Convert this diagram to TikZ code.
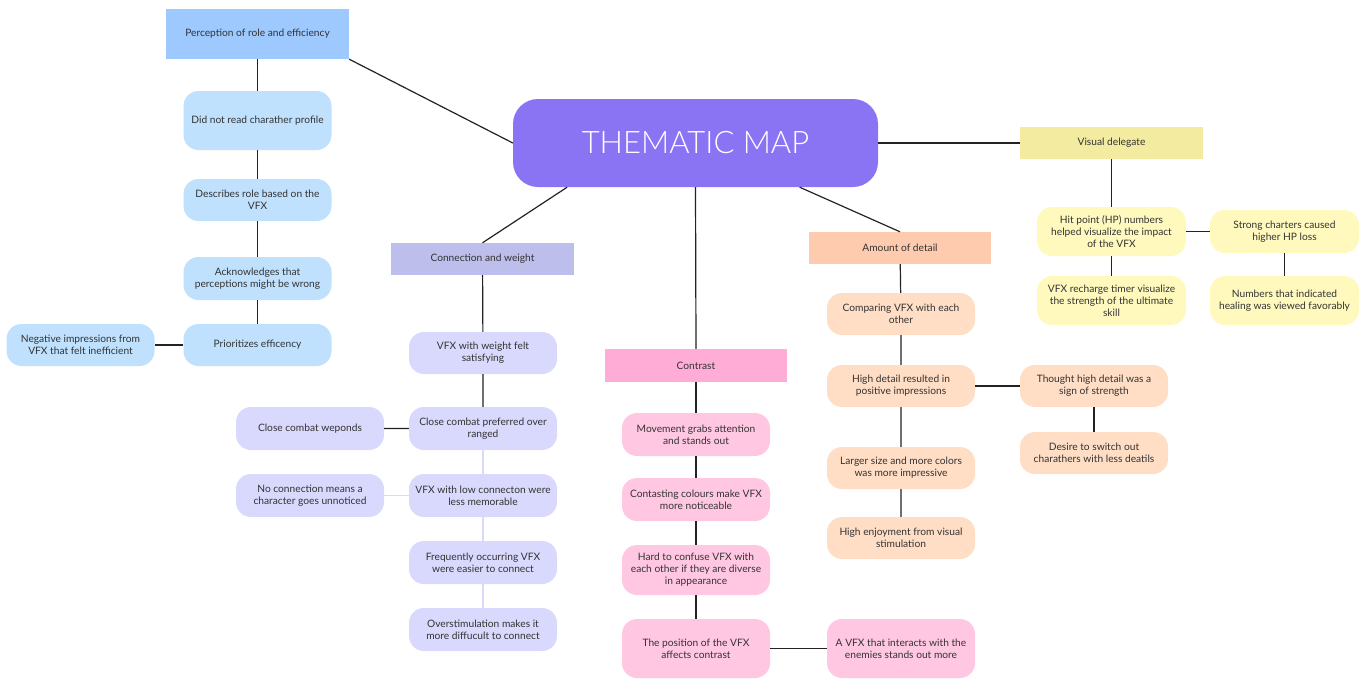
\documentclass[tikz,border=0pt]{standalone}
\usepackage{fontspec}
\setmainfont{Lato}
\newfontfamily\lightfont{Lato Light}
\definecolor{hubpurple}{HTML}{8B74F4}
\definecolor{bluecat}{HTML}{9DC9FE}
\definecolor{blueleaf}{HTML}{BFE1FE}
\definecolor{lavcat}{HTML}{BDBEEC}
\definecolor{lavleaf}{HTML}{D9D8FD}
\definecolor{pinkcat}{HTML}{FFADD7}
\definecolor{pinkleaf}{HTML}{FFC7E2}
\definecolor{peachcat}{HTML}{FFCBAF}
\definecolor{peachleaf}{HTML}{FFDEC5}
\definecolor{yellowcat}{HTML}{F3EB9F}
\definecolor{yellowleaf}{HTML}{FFF9BE}
\definecolor{txtgray}{HTML}{333333}
\definecolor{linegray}{HTML}{222222}

\begin{document}
\begin{tikzpicture}[x=1pt,y=-1pt,
  hub/.style={fill=hubpurple, rounded corners=25pt, minimum width=365pt, minimum height=88pt,
    text=white, font=\lightfont\fontsize{31}{34}\selectfont},
  theme/.style={minimum width=183pt, minimum height=32pt, inner sep=0pt, text=txtgray,
    font=\fontsize{10.2}{12}\selectfont},
  leaf/.style={rounded corners=15pt, minimum width=148pt, minimum height=42pt,
    inner sep=0pt, align=center, text=txtgray, font=\fontsize{10.2}{12}\selectfont},
  link/.style={draw=linegray, line width=1.2pt},
  softlink/.style={draw=lavleaf, line width=1.2pt}]
  \useasboundingbox (0,0) rectangle (1366,678);

  \node[hub] (hub) at (695.5,143) {THEMATIC MAP};

  % perception of role and efficiency
  \node[theme, fill=bluecat, minimum height=50pt] (perc) at (257.5,34) {Perception of role and efficiency};
  \node[leaf, fill=blueleaf, minimum height=59pt] (noread) at (257.5,120.5) {Did not read charather profile};
  \node[leaf, fill=blueleaf] (describe) at (257.5,200) {Describes role based on the\\VFX};
  \node[leaf, fill=blueleaf, minimum height=43pt] (acknow) at (257.5,278.5) {Acknowledges that\\perceptions might be wrong};
  \node[leaf, fill=blueleaf] (priority) at (257.5,345) {Prioritizes efficency};
  \node[leaf, fill=blueleaf] (negative) at (80.5,345) {Negative impressions from\\VFX that felt inefficient};

  % connection and weight
  \node[theme, fill=lavcat] (conn) at (482.5,259) {Connection and weight};
  \node[leaf, fill=lavleaf] (weight) at (483,353) {VFX with weight felt\\satisfying};
  \node[leaf, fill=lavleaf, minimum height=43pt] (closepref) at (483,428.5) {Close combat preferred over\\ranged};
  \node[leaf, fill=lavleaf, minimum height=43pt] (closeweap) at (310,428.5) {Close combat weponds};
  \node[leaf, fill=lavleaf, minimum height=43pt] (lowconn) at (483,495.5) {VFX with low connecton were\\less memorable};
  \node[leaf, fill=lavleaf, minimum height=43pt] (noconn) at (310,495.5) {No connection means a\\character goes unnoticed};
  \node[leaf, fill=lavleaf, minimum height=43pt] (frequent) at (483,562.5) {Frequently occurring VFX\\were easier to connect};
  \node[leaf, fill=lavleaf, minimum height=43pt] (overstim) at (483,629.5) {Overstimulation makes it\\more diffucult to connect};

  % contrast
  \node[theme, fill=pinkcat, minimum width=182pt, minimum height=33pt] (contrast) at (696,365.5) {Contrast};
  \node[leaf, fill=pinkleaf, minimum height=43pt] (movement) at (696,434.5) {Movement grabs attention\\and stands out};
  \node[leaf, fill=pinkleaf, minimum height=43pt] (colours) at (696,499.5) {Contasting colours make VFX\\more noticeable};
  \node[leaf, fill=pinkleaf, minimum height=50pt] (confuse) at (696,570) {Hard to confuse VFX with\\each other if they are diverse\\in appearance};
  \node[leaf, fill=pinkleaf, minimum height=59pt] (position) at (696,648.5) {The position of the VFX\\affects contrast};
  \node[leaf, fill=pinkleaf, minimum height=59pt] (interact) at (901,648.5) {A VFX that interacts with the\\enemies stands out more};

  % amount of detail
  \node[theme, fill=peachcat, minimum width=182pt] (amount) at (900,248) {Amount of detail};
  \node[leaf, fill=peachleaf] (compare) at (901,314) {Comparing VFX with each\\other};
  \node[leaf, fill=peachleaf] (highdet) at (901,386) {High detail resulted in\\positive impressions};
  \node[leaf, fill=peachleaf] (larger) at (901,468) {Larger size and more colors\\was more impressive};
  \node[leaf, fill=peachleaf] (enjoy) at (901,538) {High enjoyment from visual\\stimulation};
  \node[leaf, fill=peachleaf] (strength) at (1094,386) {Thought high detail was a\\sign of strength};
  \node[leaf, fill=peachleaf] (switch) at (1094,453) {Desire to switch out\\charathers with less deatils};

  % visual delegate
  \node[theme, fill=yellowcat] (visual) at (1111.5,143) {Visual delegate};
  \node[leaf, fill=yellowleaf, minimum width=149pt, minimum height=49pt] (hitpoint) at (1111.5,231.5) {Hit point (HP) numbers\\helped visualize the impact\\of the VFX};
  \node[leaf, fill=yellowleaf, minimum width=149pt, minimum height=49pt] (recharge) at (1111.5,300.5) {VFX recharge timer visualize\\the strength of the ultimate\\skill};
  \node[leaf, fill=yellowleaf, minimum width=149pt, minimum height=43pt] (hploss) at (1284.5,231.5) {Strong charters caused\\higher HP loss};
  \node[leaf, fill=yellowleaf, minimum width=149pt, minimum height=49pt] (healing) at (1284.5,300.5) {Numbers that indicated\\healing was viewed favorably};

  % connectors
  \draw[link] (perc.south east) -- (hub.west);
  \draw[link] (hub.199) -- (conn.north);
  \draw[link] (hub.south) -- (contrast.north);
  \draw[link] (hub.-23) -- (amount.north);
  \draw[link] (hub.east) -- (visual.west);

  \draw[link] (perc) -- (noread) -- (describe) -- (acknow) -- (priority) -- (negative);

  \draw[link] (conn) -- (weight) -- (closepref) -- (closeweap);
  \draw[softlink] (closepref) -- (lowconn) -- (frequent) -- (overstim);
  \draw[softlink] (lowconn) -- (noconn);

  \draw[link] (contrast) -- (movement) -- (colours) -- (confuse) -- (position) -- (interact);

  \draw[link] (amount) -- (compare) -- (highdet) -- (larger) -- (enjoy);
  \draw[link] (highdet) -- (strength) -- (switch);

  \draw[link] (visual) -- (hitpoint) -- (recharge);
  \draw[link] (hitpoint) -- (hploss) -- (healing);
\end{tikzpicture}
\end{document}
